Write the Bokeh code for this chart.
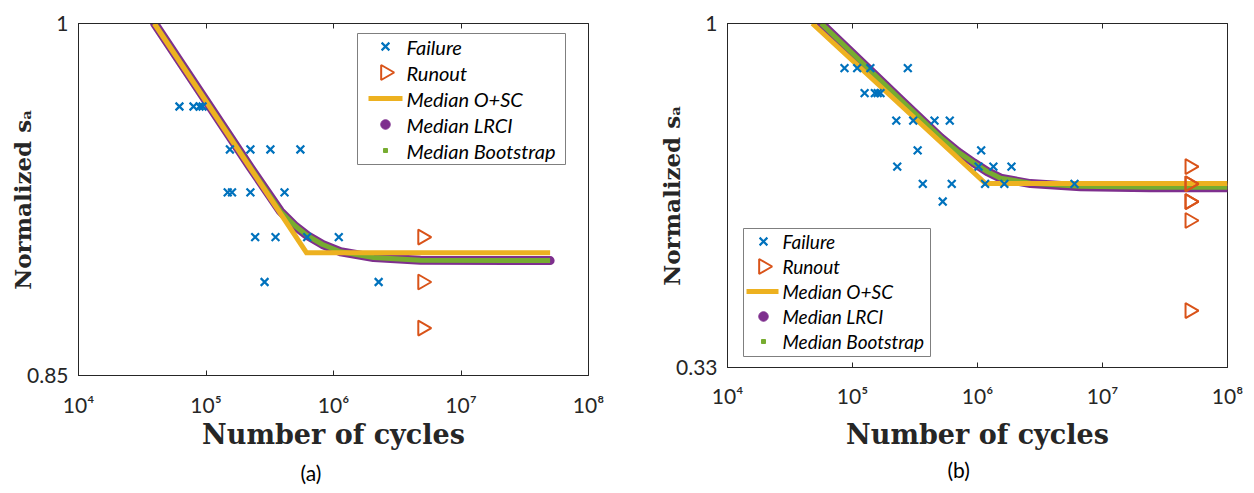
import numpy as np
from bokeh.plotting import figure
from bokeh.models import Range1d, FixedTicker, LogAxis, Title
from bokeh.core.properties import value
from bokeh.layouts import row
from bokeh.embed import file_html
from bokeh.resources import INLINE

# ---------------- shared ticks ----------------
x_ticks = [10**4, 10**5, 10**6, 10**7, 10**8]
x_tick_labels = ["10⁴", "10⁵", "10⁶", "10⁷", "10⁸"]

# ---------------- panel (a) data ----------------
a_fail_n = [6.19e4, 7.98e4, 8.9e4, 9.4e4,
            1.54e5, 2.23e5, 3.2e5, 5.5e5,
            1.48e5, 1.60e5, 2.23e5, 4.13e5,
            2.43e5, 3.51e5, 6.22e5, 1.10e6,
            2.88e5, 2.26e6]
a_fail_s = [0.9624, 0.9624, 0.9624, 0.9624,
            0.9435, 0.9435, 0.9435, 0.9435,
            0.9250, 0.9250, 0.9250, 0.9250,
            0.9061, 0.9061, 0.9061, 0.9061,
            0.8875, 0.8875]
a_run_n = [5e6, 5e6, 5e6]
a_run_s = [0.9061, 0.8875, 0.8688]
a_osc_n = [3.93e4, 6.14e5, 5.0e7]
a_osc_s = [1.0, 0.8996, 0.8996]
a_lrci_n = [3.95e4, 9.06e4, 2.23e5, 3.84e5, 5.04e5, 6.25e5, 8.2e5, 1.135e6, 2.06e6, 4.81e6, 5.0e7]
a_lrci_s = [1.0, 0.9686, 0.9357, 0.9169, 0.9106, 0.9067, 0.9030, 0.9000, 0.8976, 0.8965, 0.8963]
a_boot_n = [3.95e4, 9.06e4, 2.23e5, 3.84e5, 5.04e5, 6.25e5, 8.2e5, 1.135e6, 2.06e6, 4.81e6, 5.0e7]
a_boot_s = [1.0, 0.9686, 0.9357, 0.9169, 0.9106, 0.9067, 0.9030, 0.9000, 0.8976, 0.8965, 0.8963]
a_y_ticks = [0.85, 1]
a_y_tick_labels = ["0.85", "1"]

# ---------------- panel (b) data ----------------
b_fail_n = [8.63e4, 1.09e5, 1.39e5, 2.77e5,
            1.25e5, 1.51e5, 1.59e5, 1.675e5,
            2.24e5, 3.06e5, 4.53e5, 6.0e5,
            3.32e5, 1.07e6,
            2.28e5, 1.02e6, 1.34e6, 1.87e6,
            3.65e5, 6.22e5, 1.15e6, 1.64e6, 5.97e6,
            5.27e5]
b_fail_s = [0.8659, 0.8659, 0.8659, 0.8659,
            0.7990, 0.7990, 0.7990, 0.7990,
            0.7314, 0.7314, 0.7314, 0.7314,
            0.6643, 0.6643,
            0.6305, 0.6305, 0.6305, 0.6305,
            0.5965, 0.5965, 0.5965, 0.5965, 0.5965,
            0.5634]
b_run_n = [5e7, 5e7, 5e7, 5e7, 5e7, 5e7, 5e7]
b_run_s = [0.6305, 0.5965, 0.5965, 0.5634, 0.5634, 0.5300, 0.3965]
b_osc_n = [4.77e4, 1.16e6, 1.0e8]
b_osc_s = [1.0, 0.5970, 0.5970]
b_lrci_n = [5.62e4, 9.64e4, 2.42e5, 5.06e5, 6.92e5, 9.29e5, 1.20e6, 1.53e6, 2.65e6, 6.67e6, 2.42e7, 1.0e8]
b_lrci_s = [1.0, 0.9138, 0.7828, 0.6927, 0.6619, 0.6386, 0.6204, 0.6075, 0.5969, 0.5909, 0.5890, 0.5890]
b_boot_n = [5.62e4, 9.64e4, 2.42e5, 5.06e5, 6.92e5, 9.29e5, 1.20e6, 1.53e6, 2.65e6, 6.67e6, 2.42e7, 1.0e8]
b_boot_s = [1.0, 0.9138, 0.7828, 0.6927, 0.6619, 0.6386, 0.6204, 0.6075, 0.5975, 0.5918, 0.5900, 0.5900]
b_y_ticks = [0.33, 1]
b_y_tick_labels = ["0.33", "1"]

legend_labels = ["Failure", "Runout", "Median O+SC", "Median LRCI", "Median Bootstrap"]

BLUE = "#0072BD"
ORANGE = "#D95319"
YELLOW = "#EDB120"
PURPLE = "#7E2F8E"
GREEN = "#77AC30"
TXT = "#262626"

TOP = 23
BOTTOM = 117


def make_panel(width, bl, br, frame_h, y_lo, y_ticks, y_labels,
               fail_n, fail_s, run_n, run_s, osc_n, osc_s, lrci_n, lrci_s, boot_n, boot_s,
               leg, tick_standoff, xlab_standoff, caption, cap_offset, cap_standoff):
    frame_w = width - bl - br
    height = TOP + frame_h + BOTTOM
    p = figure(width=width, height=height, x_axis_type="log", y_axis_type="log",
               x_range=Range1d(1e4, 1e8), y_range=Range1d(y_lo, 1),
               output_backend="svg", toolbar_location=None,
               min_border_left=bl, min_border_right=br,
               min_border_top=TOP, min_border_bottom=BOTTOM)
    p.grid.visible = False
    p.outline_line_color = TXT
    p.outline_line_width = 1

    xa = p.xaxis[0]
    xa.ticker = FixedTicker(ticks=x_ticks)
    xa.major_label_overrides = dict(zip(x_ticks, x_tick_labels))
    xa.major_tick_in = 5
    xa.major_tick_out = 0
    xa.minor_tick_in = 0
    xa.minor_tick_out = 0
    xa.major_tick_line_color = TXT
    xa.axis_line_color = TXT
    xa.major_label_text_font = "Lato"
    xa.major_label_text_font_size = "21px"
    xa.major_label_text_color = TXT
    xa.major_label_standoff = tick_standoff
    xa.axis_label = "Number of cycles"
    xa.axis_label_text_font = "DejaVu Serif"
    xa.axis_label_text_font_style = "bold"
    xa.axis_label_text_font_size = "27px"
    xa.axis_label_text_color = TXT
    xa.axis_label_standoff = xlab_standoff

    ya = p.yaxis[0]
    ya.ticker = FixedTicker(ticks=y_ticks)
    ya.major_label_overrides = dict(zip(y_ticks, y_labels))
    ya.major_tick_in = 5
    ya.major_tick_out = 0
    ya.minor_tick_in = 0
    ya.minor_tick_out = 0
    ya.major_tick_line_color = TXT
    ya.axis_line_color = TXT
    ya.major_label_text_font = "Lato"
    ya.major_label_text_font_size = "21px"
    ya.major_label_text_color = TXT
    ya.major_label_standoff = 10
    ya.axis_label = "Normalized sₐ"
    ya.axis_label_text_font = "DejaVu Serif"
    ya.axis_label_text_font_style = "bold"
    ya.axis_label_text_font_size = "23px"
    ya.axis_label_text_color = TXT
    ya.axis_label_standoff = -12

    top = LogAxis(ticker=FixedTicker(ticks=x_ticks), major_tick_in=5, major_tick_out=0,
                  minor_tick_in=0, minor_tick_out=0, major_label_text_font_size="6px",
                  major_label_text_alpha=0, major_label_standoff=0,
                  axis_line_color=TXT, major_tick_line_color=TXT)
    p.add_layout(top, "above")

    # screen position inside the frame -> data position through the log scales
    def to_data(sxs, sys):
        xs = [10 ** (4 + 4 * (sx - bl) / frame_w) for sx in sxs]
        ys = [10 ** ((sy - TOP) / frame_h * np.log10(y_lo)) for sy in sys]
        return xs, ys

    # legend box (drawn first, underneath)
    l, r, t, b = leg["box"]
    bx, by = to_data([l, r], [t, b])
    p.quad(left=[bx[0]], right=[bx[1]], top=[by[0]], bottom=[by[1]],
           fill_color="white", line_color="#7f7f7f", line_width=1)

    # curves and points
    p.line(lrci_n, lrci_s, line_color=PURPLE, line_width=9, line_cap="round", line_join="round")
    p.line(boot_n, boot_s, line_color=GREEN, line_width=5, line_join="round")
    p.line(osc_n, osc_s, line_color=YELLOW, line_width=5, line_join="miter")
    p.scatter(fail_n, fail_s, marker="x", size=11, line_color=BLUE, line_width=2.2)
    p.scatter(run_n, run_s, marker="triangle", angle=-np.pi / 2, size=15,
              fill_color=None, line_color=ORANGE, line_width=2)

    # legend entries
    rows = leg["rows"]
    gx = leg["gx"]
    x0, y0 = to_data([gx], [rows[0]])
    p.scatter(x0, y0, marker="x", size=11, line_color=BLUE, line_width=2.2)
    x1, y1 = to_data([gx], [rows[1]])
    p.scatter(x1, y1, marker="triangle", angle=-np.pi / 2, size=15,
              fill_color=None, line_color=ORANGE, line_width=2)
    lx, ly = to_data(list(leg["line"]), [rows[2], rows[2]])
    p.line(lx, ly, line_color=YELLOW, line_width=5)
    x3, y3 = to_data([gx], [rows[3]])
    p.scatter(x3, y3, marker="circle", size=9.5, fill_color=PURPLE, line_color=PURPLE)
    x4, y4 = to_data([gx], [rows[4]])
    p.scatter(x4, y4, marker="square", size=4, fill_color=GREEN, line_color=GREEN)
    tx, ty = to_data([leg["tx"]] * 5, rows)
    p.text(tx, ty, text=legend_labels, text_font=value("Lato"), text_font_style="italic",
           text_font_size=leg["font"], text_color="black", text_align="left",
           text_baseline="middle")

    cap = Title(text=caption, align="left", offset=cap_offset, text_font="Lato",
                text_font_size="21px", text_font_style="normal", text_color="black",
                standoff=cap_standoff)
    p.add_layout(cap, "below")
    return p


# legend geometry in figure pixels
leg_a = dict(box=(357, 565, 33, 164), rows=[46, 72, 98, 124, 150], gx=385,
             line=(368, 402), tx=406, font="20px")
leg_b = dict(box=(103, 290, 228, 356), rows=[241, 266, 291, 316, 341], gx=123,
             line=(106, 138), tx=142, font="19px")

pa = make_panel(640, 78, 52, 352, 0.85, a_y_ticks, a_y_tick_labels,
                a_fail_n, a_fail_s, a_run_n, a_run_s, a_osc_n, a_osc_s,
                a_lrci_n, a_lrci_s, a_boot_n, a_boot_s,
                leg_a, 16, -1, "(a)", 222, 10)
pb = make_panel(613, 87, 26, 344, 0.33, b_y_ticks, b_y_tick_labels,
                b_fail_n, b_fail_s, b_run_n, b_run_s, b_osc_n, b_osc_s,
                b_lrci_n, b_lrci_s, b_boot_n, b_boot_s,
                leg_b, 15, 8, "(b)", 220, 5)

layout = row(pa, pb)
open("out.html", "w").write(file_html(layout, INLINE))
